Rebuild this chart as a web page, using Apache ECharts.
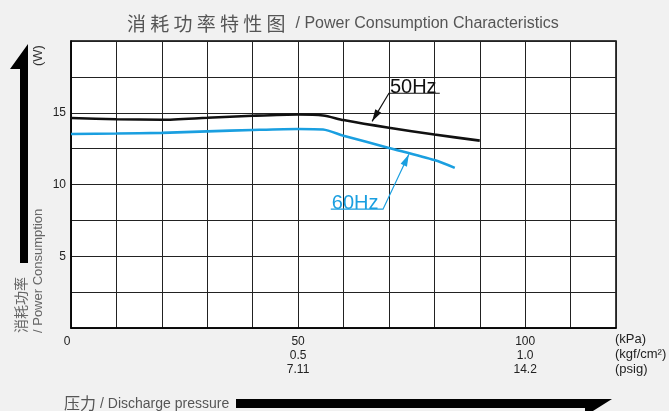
<!DOCTYPE html>
<html>
<head>
<meta charset="utf-8">
<title>消耗功率特性图</title>
<script src="https://cdn.jsdelivr.net/npm/echarts/dist/echarts.min.js"></script>
<style>
  html, body { margin: 0; padding: 0; background: #f1f1f1; }
  #chart { width: 669px; height: 411px; }
</style>
</head>
<body>
<div id="chart"></div>
<script>
// 数据 (压力 kPa / 功率 W)
const pressure50 = [0, 10, 20, 30, 40, 50, 55.5, 60, 70, 80, 90]
const power50 = [14.63, 14.55, 14.51, 14.65, 14.79, 14.88, 14.81, 14.49, 13.95, 13.48, 13.06]
const pressure60 = [0, 10, 20, 30, 40, 50, 55.5, 60, 70, 80, 84.5]
const power60 = [13.52, 13.55, 13.6, 13.7, 13.8, 13.87, 13.83, 13.4, 12.55, 11.7, 11.16]

// 刻度标签
const kpaTicks = [0, 50, 100]
const kgfTicks = ['', '0.5', '1.0']
const psigTicks = ['', '7.11', '14.2']
const powerTicks = [5, 10, 15]
const unitLabels = ['(kPa)', '(kgf/cm²)', '(psig)']

const black = '#111'
const blue = '#1a9fe0'
const cjk = '"Noto Sans CJK SC"'
const latin = '"Liberation Sans", Arial, sans-serif'

// 50Hz / 60Hz 的标注 (数据坐标)
const notes = [
  { text: '50Hz', color: black, line: [[81.2, 16.36], [70.0, 16.36], [66.3, 14.4]] },
  { text: '60Hz', color: blue, line: [[57.2, 8.28], [68.7, 8.28], [74.4, 12.1]] },
]

const chartInstance = echarts.init(document.getElementById('chart'))

function toPairs(xs, ys) {
  return xs.map((x, i) => [x, ys[i]])
}

const option = {
  backgroundColor: '#f1f1f1',
  animation: false,
  title: {
    left: 122,
    top: 9,
    text: '{a|消 耗 功 率 特 性 图}{b|/ Power Consumption Characteristics}',
    textStyle: {
      fontWeight: 'normal',
      rich: {
        a: { fontFamily: cjk, fontSize: 19, fontWeight: 'normal', color: '#555', padding: [0, 10, 0, 0] },
        b: { fontFamily: latin, fontSize: 16, fontWeight: 'normal', color: '#555' },
      },
    },
  },
  grid: {
    left: 71,
    right: 53,
    top: 41,
    bottom: 83,
    show: true,
    backgroundColor: '#fff',
    borderColor: '#000',
    borderWidth: 1.5,
  },
  xAxis: {
    type: 'value',
    min: 0,
    max: 120,
    interval: 10,
    axisLine: { show: true, lineStyle: { color: '#000', width: 1.5 } },
    axisTick: { show: false },
    splitLine: { show: true, lineStyle: { color: '#222', width: 1 } },
    axisLabel: {
      margin: 7,
      color: '#222',
      fontFamily: latin,
      fontSize: 12,
      lineHeight: 14,
      formatter: (v) => {
        const i = kpaTicks.indexOf(v)
        if (i < 0) return ''
        if (i === 0) return '{z|0}'
        return [kpaTicks[i], kgfTicks[i], psigTicks[i]].join('\n')
      },
      rich: {
        z: { fontFamily: latin, fontSize: 12, lineHeight: 14, color: '#222', padding: [0, 8, 0, 0] },
      },
    },
  },
  yAxis: {
    type: 'value',
    min: 0,
    max: 20,
    interval: 2.5,
    axisLine: { show: true, lineStyle: { color: '#000', width: 1.5 } },
    axisTick: { show: false },
    splitLine: { show: true, lineStyle: { color: '#222', width: 1 } },
    axisLabel: {
      margin: 5,
      color: '#222',
      fontFamily: latin,
      fontSize: 12,
      formatter: (v) => (powerTicks.includes(v) ? String(v) : ''),
    },
  },
  series: [
    {
      name: '50Hz',
      type: 'line',
      data: toPairs(pressure50, power50),
      showSymbol: false,
      smooth: 0.25,
      lineStyle: { color: black, width: 2.6 },
      z: 3,
    },
    {
      name: '60Hz',
      type: 'line',
      data: toPairs(pressure60, power60),
      showSymbol: false,
      smooth: 0.25,
      lineStyle: { color: blue, width: 2.6 },
      z: 3,
    },
  ],
}
chartInstance.setOption(option)

// 箭头标注与轴标题
function buildGraphic() {
  const els = []
  notes.forEach((n) => {
    const pts = n.line.map((p) => chartInstance.convertToPixel({ gridIndex: 0 }, p))
    els.push({
      type: 'polyline',
      shape: { points: pts },
      style: { stroke: n.color, lineWidth: 1.2, fill: null },
      z: 10,
    })
    // 箭头
    const a = pts[pts.length - 2]
    const b = pts[pts.length - 1]
    const len = Math.hypot(b[0] - a[0], b[1] - a[1])
    const ux = (b[0] - a[0]) / len
    const uy = (b[1] - a[1]) / len
    const bx = b[0] - ux * 12
    const by = b[1] - uy * 12
    els.push({
      type: 'polygon',
      shape: { points: [b, [bx - uy * 3.5, by + ux * 3.5], [bx + uy * 3.5, by - ux * 3.5]] },
      style: { fill: n.color },
      z: 10,
    })
    // 文字在下划线上方
    const left = pts[0][0] < pts[1][0] ? pts[0] : pts[1]
    els.push({
      type: 'text',
      x: left[0] + 1,
      y: left[1] + 4,
      style: { text: n.text, fill: n.color, font: '20px ' + latin, align: 'left', verticalAlign: 'bottom' },
      z: 10,
    })
  })

  // 纵向粗箭头
  els.push({
    type: 'polygon',
    shape: { points: [[28, 44], [28, 263], [20, 263], [20, 69], [10, 69]] },
    style: { fill: '#000' },
  })
  // 横向粗箭头
  els.push({
    type: 'polygon',
    shape: { points: [[236, 399], [612, 399], [585, 416], [585, 408], [236, 408]] },
    style: { fill: '#000' },
  })
  // 纵轴标题
  els.push({
    type: 'text', x: 21, y: 333, rotation: Math.PI / 2,
    style: { text: '消耗功率', font: '14px ' + cjk, fill: '#666', align: 'left', verticalAlign: 'middle' },
  })
  els.push({
    type: 'text', x: 38, y: 333, rotation: Math.PI / 2,
    style: { text: '/ Power Consumption', font: '13px ' + latin, fill: '#666', align: 'left', verticalAlign: 'middle' },
  })
  els.push({
    type: 'text', x: 38, y: 66, rotation: Math.PI / 2,
    style: { text: '(W)', font: '13px ' + latin, fill: '#333', align: 'left', verticalAlign: 'middle' },
  })
  // 横轴标题
  els.push({
    type: 'text', x: 64, y: 403,
    style: { text: '压力', font: '16px ' + cjk, fill: '#555', align: 'left', verticalAlign: 'middle' },
  })
  els.push({
    type: 'text', x: 100, y: 404,
    style: { text: '/ Discharge pressure', font: '14px ' + latin, fill: '#555', align: 'left', verticalAlign: 'middle' },
  })
  // 单位
  els.push({
    type: 'text', x: 615, y: 332,
    style: { text: unitLabels.join('\n'), font: '13px ' + latin, lineHeight: 15, fill: '#222', align: 'left', verticalAlign: 'top' },
  })
  return els
}

chartInstance.setOption({ graphic: buildGraphic() })
</script>
</body>
</html>
